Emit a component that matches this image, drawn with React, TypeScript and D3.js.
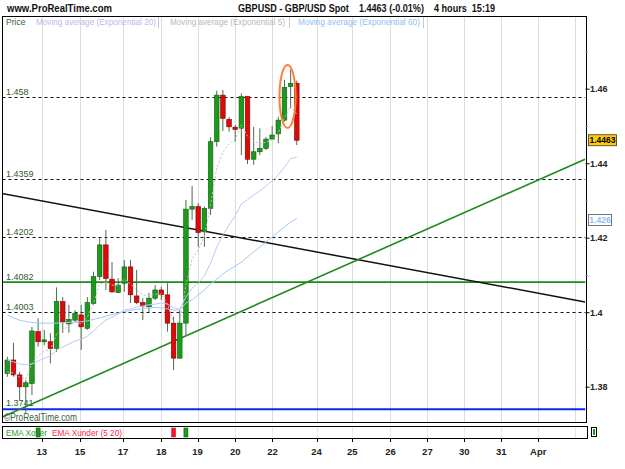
import * as d3 from "d3";

// 4h GBPUSD candles (slot 0 = first visible candle)
const candleOpen = [
  1.3837, 1.3873, 1.3833, 1.3801, 1.381, 1.3949, 1.3922, 1.3922, 1.3904, 1.403,
  1.397, 1.398, 1.3994, 1.3958, 1.4025, 1.4097, 1.4182, 1.409, 1.4054, 1.4079,
  1.4123, 1.4045, 1.4027, 1.4016, 1.4039, 1.4061, 1.4048, 1.3972, 1.3878, 1.3972,
  1.4278, 1.4285, 1.4217, 1.428, 1.4459, 1.4584, 1.4519, 1.4498, 1.4495, 1.458,
  1.4412, 1.4432, 1.4441, 1.4466, 1.448, 1.4517, 1.4607, 1.4616,
];
const candleHigh = [
  1.3882, 1.3919, 1.3841, 1.3819, 1.3962, 1.3985, 1.3954, 1.3945, 1.4068, 1.4042,
  1.4021, 1.4007, 1.4021, 1.4042, 1.411, 1.42, 1.4222, 1.4136, 1.4093, 1.4141,
  1.4141, 1.4115, 1.4039, 1.4053, 1.4074, 1.407, 1.4079, 1.3989, 1.4007, 1.4303,
  1.434, 1.4294, 1.4285, 1.4471, 1.4596, 1.4598, 1.4525, 1.4504, 1.4589, 1.4582,
  1.4499, 1.4495, 1.4472, 1.4501, 1.4526, 1.4625, 1.4652, 1.4623,
];
const candleLow = [
  1.3828, 1.3828, 1.3766, 1.3731, 1.3779, 1.3909, 1.3913, 1.3864, 1.3895, 1.3946,
  1.3946, 1.3975, 1.39, 1.3954, 1.4021, 1.4088, 1.4061, 1.4053, 1.4053, 1.4056,
  1.4026, 1.4023, 1.398, 1.4002, 1.4034, 1.4034, 1.3949, 1.3846, 1.3876, 1.394,
  1.4249, 1.4177, 1.4177, 1.4262, 1.4446, 1.4488, 1.4486, 1.4459, 1.4423, 1.4399,
  1.4397, 1.4423, 1.4437, 1.4466, 1.4455, 1.4513, 1.4549, 1.445,
];
const candleClose = [
  1.3873, 1.3833, 1.3801, 1.3812, 1.3951, 1.3922, 1.3927, 1.3904, 1.403, 1.3975,
  1.3982, 1.3998, 1.3962, 1.4027, 1.4097, 1.4182, 1.4092, 1.4056, 1.4074, 1.4123,
  1.4048, 1.4027, 1.4018, 1.4039, 1.4061, 1.4048, 1.3972, 1.3878, 1.3972, 1.4278,
  1.4285, 1.4215, 1.428, 1.4459, 1.4584, 1.4522, 1.4499, 1.4492, 1.458, 1.4412,
  1.4432, 1.4441, 1.4466, 1.4477, 1.4517, 1.4605, 1.4616, 1.4463,
];

// moving averages as drawn
const ema20 = [
  1.3873, 1.3868, 1.3862, 1.386, 1.3862, 1.387, 1.3878, 1.3884, 1.39, 1.3908,
  1.3916, 1.3924, 1.3929, 1.3937, 1.3951, 1.3967, 1.398, 1.3988, 1.3997, 1.4007,
  1.401, 1.4015, 1.4018, 1.4021, 1.4023, 1.4026, 1.4023, 1.4013, 1.401, 1.4042,
  1.4066, 1.408, 1.4099, 1.4133, 1.4176, 1.4209, 1.4235, 1.426, 1.4292, 1.4303,
  1.4316, 1.4327, 1.434, 1.4354, 1.437, 1.4391, 1.4413, 1.4418,
];
const ema5 = [
  1.3841, 1.3838, 1.3827, 1.3822, 1.3865, 1.3884, 1.3897, 1.39, 1.3943, 1.3954,
  1.3964, 1.3975, 1.397, 1.3988, 1.4026, 1.4077, 1.4082, 1.4074, 1.4074, 1.409,
  1.4077, 1.4061, 1.4048, 1.4045, 1.405, 1.405, 1.4023, 1.3975, 1.3975, 1.4074,
  1.4144, 1.4168, 1.4206, 1.4289, 1.4388, 1.4431, 1.4453, 1.4466, 1.4504, 1.4474,
  1.4461, 1.4453, 1.4458, 1.4464, 1.4482, 1.4523, 1.4555, 1.4533,
];
const ema60 = [
  1.3994, 1.3986, 1.398, 1.3976, 1.3974, 1.3972, 1.3972, 1.3972, 1.3972, 1.3973,
  1.3974, 1.3975, 1.3976, 1.3978, 1.3982, 1.3986, 1.3991, 1.3995, 1.3999, 1.4003,
  1.4006, 1.4009, 1.4011, 1.4013, 1.4014, 1.4013, 1.401, 1.4007, 1.4007, 1.4026,
  1.4034, 1.4048, 1.4061, 1.4077, 1.409, 1.4104, 1.4115, 1.4125, 1.4136, 1.415,
  1.4163, 1.4176, 1.419, 1.4203, 1.4217, 1.423, 1.4243, 1.4253,
];

// x axis: day labels and the candle slot they sit at
const dayLabels = ["13", "15", "17", "18", "19", "20", "22", "24", "25", "26", "27", "30", "31", "Apr", ""];
const daySlots = [5.6, 11.8, 18.8, 25.0, 30.9, 37.0, 43.05, 50.2, 56.0, 62.2, 68.2, 74.2, 80.2, 86.2, 92.1];

// y axis
const priceTicks = [1.38, 1.4, 1.42, 1.44, 1.46];
const priceTickLabels = ["1.38", "1.4", "1.42", "1.44", "1.46"];
const priceMinorTicks = [1.39, 1.41, 1.43, 1.45, 1.47];

// drawn levels
const dashedLevels = [1.458, 1.4359, 1.4202, 1.4003];
const greenLevel = 1.4082;
const blueLevel = 1.3741;

// trend lines: [slot, price] pairs
const blackTrend = [[-1.2, 1.4321], [93.8, 1.4029]];
const greenTrend = [[-1.2, 1.3717], [93.8, 1.4412]];

// circled candles
const circleSlots = [45, 46];
const circlePrices = [1.4496, 1.4665];

// EMA cross indicator
const xoverSlots = [5, 29];
const xunderSlots = [27];

const lastPrice = 1.4463;
const lastPriceLabel = "1.4463";
const ema60Label = "1.426";
const chartTitle = "GBPUSD - GBP/USD Spot    1.4463 (-0.01%)    4 hours  15:19";

const FONT = "'Liberation Sans', Arial, sans-serif";
const NARROW = "'Liberation Sans Narrow', 'Arial Narrow', 'Liberation Sans', Arial, sans-serif";

export default function App() {
  const left = 2.5, right = 585.5, top = 16.5, bottom = 422.5;
  const indTop = 426.5, indBottom = 438.5;

  const x = d3.scaleLinear().domain([0, 47]).range([7.3, 296.8]);
  const y = d3.scaleLinear().domain([1.38, 1.46]).range([387.2, 89.2]);

  const maLine = d3
    .line<number>()
    .x((d, i) => x(i))
    .y((d) => y(d));

  const trendPath = (pts: number[][]) =>
    d3.line<number[]>().x((d) => x(d[0])).y((d) => y(d[1]))(pts) || "";

  const ellCx = x((circleSlots[0] + circleSlots[1]) / 2);
  const ellRx = (x(circleSlots[1]) - x(circleSlots[0])) / 2 + 5;
  const ellCy = (y(circlePrices[0]) + y(circlePrices[1])) / 2;
  const ellRy = (y(circlePrices[0]) - y(circlePrices[1])) / 2;

  const levelLabel = (v: number) => String(v);
  const ema60Last = ema60[ema60.length - 1];

  return (
    <svg
      width={625}
      height={469}
      style={{ position: "absolute", left: 0, top: 0, background: "#fff" }}
      fontFamily={FONT}
    >
      <defs>
        <clipPath id="panel">
          <rect x={left} y={top} width={right - left} height={bottom - top} />
        </clipPath>
      </defs>
      <rect x={0} y={0} width={625} height={469} fill="#fff" />

      {/* header */}
      <text x={7} y={12} fontFamily={NARROW} fontSize={11} fontWeight="bold" fill="#111" textLength={105} lengthAdjust="spacingAndGlyphs">
        www.ProRealTime.com
      </text>
      <text
        x={238}
        y={12}
        fontFamily={NARROW}
        fontSize={11}
        fontWeight="bold"
        fill="#111"
        textLength={257}
        lengthAdjust="spacingAndGlyphs"
        style={{ whiteSpace: "pre" }}
      >
        {chartTitle}
      </text>

      {/* vertical grid */}
      {daySlots.map((s, i) => (
        <line key={"g" + i} x1={Math.round(x(s)) + 0.5} x2={Math.round(x(s)) + 0.5} y1={top} y2={bottom} stroke="#dcdcdc" />
      ))}
      {daySlots.map((s, i) => (
        <line key={"gi" + i} x1={Math.round(x(s)) + 0.5} x2={Math.round(x(s)) + 0.5} y1={indTop} y2={indBottom} stroke="#e6e6e6" />
      ))}

      {/* legend */}
      <text x={6} y={25} fontSize={8.5} fill="#336633">Price</text>
      <text x={36} y={25} fontSize={8.5} fill="#b9b9ee" textLength={120} lengthAdjust="spacingAndGlyphs">
        Moving average (Exponential 20)
      </text>
      <line x1={158.5} x2={158.5} y1={17} y2={28} stroke="#c8c8c8" />
      <text x={170} y={25} fontSize={8.5} fill="#b8b8b8" textLength={115} lengthAdjust="spacingAndGlyphs">
        Moving average (Exponential 5)
      </text>
      <line x1={289.5} x2={289.5} y1={17} y2={28} stroke="#c8c8c8" />
      <text x={298} y={25} fontSize={8.5} fill="#8ec0f2" textLength={122} lengthAdjust="spacingAndGlyphs">
        Moving average (Exponential 60)
      </text>
      <line x1={423.5} x2={423.5} y1={17} y2={28} stroke="#c8c8c8" />

      <g clipPath="url(#panel)">
        {/* dashed levels */}
        {dashedLevels.map((v, i) => (
          <g key={"d" + i}>
            <line x1={left} x2={right} y1={Math.round(y(v)) + 0.5} y2={Math.round(y(v)) + 0.5} stroke="#111" strokeDasharray="3,3" />
            <text x={6} y={Math.round(y(v)) - 2} fontSize={9} fill="#2f5a2f">
              {levelLabel(v)}
            </text>
          </g>
        ))}
        <line x1={left} x2={right} y1={y(greenLevel)} y2={y(greenLevel)} stroke="#1e8a1e" strokeWidth={1.6} />
        <text x={6} y={y(greenLevel) - 2.5} fontSize={9} fill="#2f5a2f">
          {levelLabel(greenLevel)}
        </text>
        <line x1={left} x2={right} y1={y(blueLevel)} y2={y(blueLevel)} stroke="#0a28ff" strokeWidth={2} />
        <text x={6} y={y(blueLevel) - 3} fontSize={9} fill="#2f5a2f">
          {levelLabel(blueLevel)}
        </text>

        {/* trend lines */}
        <path d={trendPath(blackTrend)} stroke="#111" strokeWidth={1.5} fill="none" />
        <path d={trendPath(greenTrend)} stroke="#1e8a1e" strokeWidth={1.6} fill="none" />

        {/* candles */}
        {candleOpen.map((o, i) => {
          const c = candleClose[i];
          const up = c >= o;
          const yt = y(Math.max(o, c));
          const h = Math.max(1.5, y(Math.min(o, c)) - yt);
          return (
            <g key={"c" + i}>
              <line x1={x(i)} x2={x(i)} y1={y(candleHigh[i])} y2={y(candleLow[i])} stroke="#4f6a4f" strokeWidth={1} />
              <rect
                x={x(i) - 2.3}
                y={yt}
                width={4.6}
                height={h}
                fill={up ? "#1c9a1c" : "#dd0a0a"}
                stroke={up ? "#0e5e0e" : "#7a0505"}
                strokeWidth={0.6}
              />
            </g>
          );
        })}

        {/* moving averages */}
        <path d={maLine(ema60) || ""} fill="none" stroke="#9fcaf5" strokeWidth={1} />
        <path d={maLine(ema20) || ""} fill="none" stroke="#c4c4f2" strokeWidth={1} />
        <path d={maLine(ema5) || ""} fill="none" stroke="#bdbdbd" strokeWidth={1} strokeDasharray="2,2" />

        {/* annotation */}
        <ellipse cx={ellCx} cy={ellCy} rx={ellRx} ry={ellRy} fill="none" stroke="#ff7f3a" strokeWidth={2} />

        <text x={4} y={421} fontSize={10} fill="#3d5f3d" textLength={73} lengthAdjust="spacingAndGlyphs">
          ©ProRealTime.com
        </text>
      </g>

      {/* panel frame */}
      <rect x={left} y={top} width={right - left + 1} height={bottom - top} fill="none" stroke="#000" />

      {/* right price axis */}
      {priceTicks.map((v, i) => (
        <g key={"p" + i}>
          <line x1={right} x2={right + 4} y1={y(v)} y2={y(v)} stroke="#000" />
          <text x={right + 4.5} y={y(v) + 3.2} fontSize={9} fontWeight="bold" fill="#222">
            {priceTickLabels[i]}
          </text>
        </g>
      ))}
      {priceMinorTicks.map((v, i) => (
        <line key={"pm" + i} x1={right} x2={right + 2} y1={y(v)} y2={y(v)} stroke="#777" />
      ))}

      {/* last price tags */}
      <rect x={588.5} y={y(lastPrice) - 5.5} width={28} height={11} fill="#ffcc00" stroke="#333" strokeWidth={0.8} />
      <text x={602.5} y={y(lastPrice) + 3.2} fontSize={8.5} fontWeight="bold" fill="#000" textAnchor="middle">
        {lastPriceLabel}
      </text>
      <rect x={588.5} y={y(ema60Last) - 4} width={23} height={11} fill="#fff" stroke="#555" strokeWidth={0.8} />
      <text x={600} y={y(ema60Last) + 4.7} fontSize={8.5} fontWeight="bold" fill="#8cc0f4" textAnchor="middle">
        {ema60Label}
      </text>

      {/* indicator panel */}
      <rect x={left} y={indTop} width={right - left + 2} height={indBottom - indTop} fill="none" stroke="#000" />
      <text x={6} y={436} fontSize={8.5} fill="#2ea02e" textLength={41} lengthAdjust="spacingAndGlyphs">
        EMA Xover
      </text>
      <text x={52} y={436} fontSize={8.5} fill="#ff1f4a" textLength={70} lengthAdjust="spacingAndGlyphs">
        EMA Xunder (5 20)
      </text>
      {xoverSlots.map((s, i) => (
        <rect key={"xo" + i} x={x(s) - 2} y={indTop + 1.5} width={4} height={indBottom - indTop - 3} fill="#1c9a1c" stroke="#0e5e0e" strokeWidth={0.6} />
      ))}
      {xunderSlots.map((s, i) => (
        <rect key={"xu" + i} x={x(s) - 2} y={indTop + 1.5} width={4} height={indBottom - indTop - 3} fill="#ff1030" stroke="#a00010" strokeWidth={0.4} />
      ))}
      <rect x={591.5} y={427.5} width={5} height={9} fill="#fff" stroke="#000" />
      <line x1={594} x2={594} y1={429} y2={435} stroke="#1c9a1c" strokeWidth={2} />

      {/* x axis */}
      {daySlots.map((s, i) =>
        dayLabels[i] ? (
          <g key={"t" + i}>
            <line x1={Math.round(x(s)) + 0.5} x2={Math.round(x(s)) + 0.5} y1={indBottom} y2={indBottom + 3.5} stroke="#000" />
            <text x={x(s)} y={455} fontSize={9.5} fontWeight="bold" fill="#222" textAnchor="middle">
              {dayLabels[i]}
            </text>
          </g>
        ) : null
      )}
    </svg>
  );
}
